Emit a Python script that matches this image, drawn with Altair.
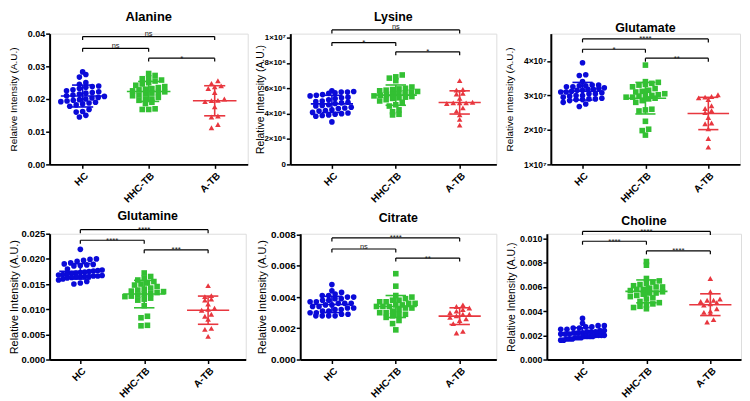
import altair as alt
import pandas as pd
import numpy as np

GROUPS = ["HC", "HHC-TB", "A-TB"]
COLORS = ["#0a0ad8", "#33c033", "#e8373f"]
SHAPES = ["circle", "square", "triangle-up"]
PAIRS = [(0, 2), (0, 1), (1, 2)]

# ---------------- data ----------------
alanine_hc = [0.0283, 0.0275, 0.0267, 0.0250, 0.0245, 0.0240, 0.0238, 0.0236, 0.0232, 0.0228, 0.0225, 0.0222,
              0.0220, 0.0218, 0.0215, 0.0212, 0.0210, 0.0208, 0.0205, 0.0203, 0.0200, 0.0198, 0.0196, 0.0194,
              0.0192, 0.0190, 0.0188, 0.0185, 0.0182, 0.0178, 0.0168, 0.0162, 0.0160, 0.0150, 0.0145]
alanine_hhc = [0.0278, 0.0272, 0.0265, 0.0262, 0.0258, 0.0255, 0.0250, 0.0246, 0.0242, 0.0238, 0.0235, 0.0232,
               0.0230, 0.0228, 0.0225, 0.0222, 0.0220, 0.0218, 0.0215, 0.0212, 0.0210, 0.0205, 0.0200, 0.0198,
               0.0196, 0.0190, 0.0186, 0.0170, 0.0168, 0.0168]
alanine_atb = [0.0256, 0.0248, 0.0240, 0.0237, 0.0232, 0.0220, 0.0200, 0.0196, 0.0195, 0.0192, 0.0176, 0.0148,
               0.0145, 0.0122, 0.0112]
alanine_sig_y = [0.0391, 0.0355, 0.0325]
alanine_sig = ["ns", "ns", "*"]

lysine_hc = [5.8e6, 5.75e6, 5.7e6, 5.7e6, 5.65e6, 5.6e6, 5.5e6, 5.45e6, 5.4e6, 5.3e6, 5.25e6, 5.2e6, 5.1e6,
             5.0e6, 4.95e6, 4.9e6, 4.85e6, 4.8e6, 4.7e6, 4.65e6, 4.6e6, 4.5e6, 4.45e6, 4.4e6, 4.3e6, 4.25e6,
             4.2e6, 4.1e6, 4.05e6, 4.0e6, 3.95e6, 3.9e6, 3.85e6, 3.8e6, 3.35e6]
lysine_hhc = [7.05e6, 6.9e6, 6.8e6, 6.6e6, 6.1e6, 6.0e6, 5.95e6, 5.9e6, 5.85e6, 5.8e6, 5.75e6, 5.7e6, 5.65e6,
              5.6e6, 5.55e6, 5.5e6, 5.45e6, 5.4e6, 5.35e6, 5.3e6, 5.25e6, 5.2e6, 5.1e6, 5.0e6, 4.9e6, 4.7e6,
              4.6e6, 4.3e6, 4.15e6, 3.95e6, 3.9e6]
lysine_atb = [6.6e6, 5.9e6, 5.85e6, 5.6e6, 5.55e6, 5.2e6, 4.9e6, 4.85e6, 4.85e6, 4.85e6, 4.8e6, 4.45e6, 4.2e6,
              3.9e6, 3.55e6, 3.1e6]
lysine_sig_y = [1.06e7, 0.96e7, 0.887e7]
lysine_sig = ["ns", "*", "*"]

glutamate_hc = [3.95e7, 3.6e7, 3.58e7, 3.4e7, 3.3e7, 3.3e7, 3.28e7, 3.28e7, 3.25e7, 3.25e7, 3.22e7, 3.2e7,
                3.18e7, 3.18e7, 3.15e7, 3.15e7, 3.12e7, 3.1e7, 3.1e7, 3.08e7, 3.05e7, 3.05e7, 3.0e7, 3.0e7,
                2.98e7, 2.95e7, 2.92e7, 2.9e7, 2.9e7, 2.88e7, 2.88e7, 2.85e7, 2.8e7, 2.75e7, 2.68e7]
glutamate_hhc = [3.88e7, 3.4e7, 3.38e7, 3.35e7, 3.32e7, 3.3e7, 3.25e7, 3.2e7, 3.15e7, 3.12e7, 3.1e7, 3.05e7,
                 3.02e7, 3.0e7, 3.0e7, 2.98e7, 2.95e7, 2.95e7, 2.92e7, 2.9e7, 2.85e7, 2.8e7, 2.6e7, 2.58e7,
                 2.55e7, 2.25e7, 2.02e7, 1.98e7, 1.85e7]
glutamate_atb = [3.02e7, 2.97e7, 2.95e7, 2.93e7, 2.88e7, 2.7e7, 2.62e7, 2.56e7, 2.5e7, 2.36e7, 2.2e7, 2.18e7,
                 2.03e7, 1.75e7, 1.5e7]
glutamate_sig_y = [4.64e7, 4.34e7, 4.08e7]
glutamate_sig = ["****", "*", "**"]

glutamine_hc = [0.0219, 0.0200, 0.0199, 0.0197, 0.0195, 0.0192, 0.0190, 0.0189, 0.0188, 0.0187, 0.0186, 0.0180,
                0.0178, 0.0177, 0.0176, 0.0175, 0.0174, 0.0173, 0.0172, 0.0171, 0.0170, 0.0169, 0.0168, 0.0167,
                0.0166, 0.0166, 0.0165, 0.0165, 0.0164, 0.0164, 0.0163, 0.0162, 0.0160, 0.0158, 0.0155, 0.0152,
                0.0150]
glutamine_hhc = [0.0172, 0.0165, 0.0162, 0.0158, 0.0155, 0.0152, 0.0150, 0.0148, 0.0145, 0.0142, 0.0140, 0.0138,
                 0.0136, 0.0135, 0.0133, 0.0131, 0.0130, 0.0128, 0.0126, 0.0125, 0.0122, 0.0120, 0.0118, 0.0107,
                 0.0086, 0.0083, 0.0068, 0.0067]
glutamine_atb = [0.0147, 0.0127, 0.0125, 0.0120, 0.0118, 0.0110, 0.0102, 0.0100, 0.0098, 0.0090, 0.0086, 0.0080,
                 0.0062, 0.0060, 0.0046]
glutamine_sig_y = [0.0258, 0.0237, 0.0218]
glutamine_sig = ["****", "****", "***"]

citrate_hc = [0.0048, 0.0044, 0.0043, 0.0042, 0.0041, 0.0041, 0.0040, 0.0040, 0.0039, 0.0039, 0.0038, 0.0038,
              0.0037, 0.0037, 0.0036, 0.0036, 0.0036, 0.0035, 0.0035, 0.0034, 0.0034, 0.0033, 0.0033, 0.0032,
              0.0032, 0.0031, 0.0031, 0.0030, 0.0030, 0.0029, 0.0029, 0.0028, 0.0028, 0.0028, 0.0028]
citrate_hhc = [0.0055, 0.0047, 0.0041, 0.0040, 0.0039, 0.0038, 0.0038, 0.0037, 0.0037, 0.0036, 0.0036, 0.0035,
               0.0035, 0.0034, 0.0034, 0.0034, 0.0033, 0.0033, 0.0032, 0.0031, 0.0030, 0.0030, 0.0029, 0.0029,
               0.0028, 0.0027, 0.0025, 0.0023, 0.0019]
citrate_atb = [0.0035, 0.0034, 0.0033, 0.0032, 0.0031, 0.0030, 0.0029, 0.0029, 0.0028, 0.0027, 0.0026, 0.0025,
               0.0023, 0.0018, 0.0017]
citrate_sig_y = [0.00779, 0.00708, 0.0065]
citrate_sig = ["****", "ns", "**"]

choline_hc = [0.0034, 0.0030, 0.0028, 0.0028, 0.0027, 0.0027, 0.0026, 0.0026, 0.0025, 0.0025, 0.0024, 0.0024,
              0.0023, 0.0023, 0.0023, 0.0022, 0.0022, 0.0022, 0.0021, 0.0021, 0.0021, 0.0020, 0.0020, 0.0020,
              0.0020, 0.0019, 0.0019, 0.0019, 0.0019, 0.0018, 0.0018, 0.0018, 0.0017, 0.0017, 0.0017, 0.0016,
              0.0016]
choline_hhc = [0.0081, 0.0078, 0.0067, 0.0065, 0.0064, 0.0063, 0.0062, 0.0061, 0.0060, 0.0060, 0.0059, 0.0058,
               0.0058, 0.0057, 0.0056, 0.0055, 0.0055, 0.0054, 0.0053, 0.0052, 0.0051, 0.0050, 0.0048, 0.0047,
               0.0046, 0.0045, 0.0044, 0.0043, 0.0042]
choline_atb = [0.0067, 0.0056, 0.0050, 0.0049, 0.0049, 0.0048, 0.0047, 0.0046, 0.0045, 0.0042, 0.0040, 0.0039,
               0.0038, 0.0033, 0.0031]
choline_sig_y = [0.01059, 0.00978, 0.00898]
choline_sig = ["****", "****", "****"]

alanine_ticks = [0, 0.01, 0.02, 0.03, 0.04]
lysine_ticks = [0, 2e6, 4e6, 6e6, 8e6, 1e7]
glutamate_ticks = [1e7, 2e7, 3e7, 4e7]
glutamine_ticks = [0, 0.005, 0.010, 0.015, 0.020, 0.025]
citrate_ticks = [0, 0.002, 0.004, 0.006, 0.008]
choline_ticks = [0, 0.002, 0.004, 0.006, 0.008, 0.010]

FONT = "Liberation Sans"
YTITLE = "Relative Intensity (A.U.)"

# ---------------- layout settings (not data) ----------------
PANELS = [
    dict(name="Alanine", vals=(alanine_hc, alanine_hhc, alanine_atb), sy=alanine_sig_y, sl=alanine_sig,
         W=200, H=132, xdom=(-0.5, 2.5), ydom=(0, 0.04), ticks=alanine_ticks, fmt=".2f",
         toff=17, tfs=13, ext=31, ytfs=10, lfs=9),
    dict(name="Lysine", vals=(lysine_hc, lysine_hhc, lysine_atb), sy=lysine_sig_y, sl=lysine_sig,
         W=208, H=132, xdom=(-0.651, 2.574), ydom=(0, 1.0308e7), ticks=lysine_ticks,
         expr="datum.value == 0 ? '0' : (datum.value >= 1e7 ? '1×10⁷' : format(datum.value/1e6, 'd') + '×10⁶')",
         toff=17, tfs=12.5, ext=25.5, ytfs=10.5, lfs=8),
    dict(name="Glutamate", vals=(glutamate_hc, glutamate_hhc, glutamate_atb), sy=glutamate_sig_y, sl=glutamate_sig,
         W=191, H=132, xdom=(-0.504, 2.504), ydom=(1e7, 4.793e7), ticks=glutamate_ticks,
         expr="format(datum.value/1e7, 'd') + '×10⁷'",
         toff=6, tfs=12.5, ext=37, ytfs=10, lfs=8.5),
    dict(name="Glutamine", vals=(glutamine_hc, glutamine_hhc, glutamine_atb), sy=glutamine_sig_y, sl=glutamine_sig,
         W=198, H=127, xdom=(-0.481, 2.589), ydom=(0, 0.025), ticks=glutamine_ticks, fmt=".3f",
         toff=18, tfs=12.5, ext=30.5, ytfs=11, lfs=9.5),
    dict(name="Citrate", vals=(citrate_hc, citrate_hhc, citrate_atb), sy=citrate_sig_y, sl=citrate_sig,
         W=198, H=127, xdom=(-0.496, 2.574), ydom=(0, 0.00806), ticks=citrate_ticks, fmt=".3f",
         toff=16, tfs=12.5, ext=33.5, ytfs=11, lfs=10),
    dict(name="Choline", vals=(choline_hc, choline_hhc, choline_atb), sy=choline_sig_y, sl=choline_sig,
         W=196, H=127, xdom=(-0.558, 2.48), ydom=(0, 0.0104), ticks=choline_ticks, fmt=".3f",
         toff=13, tfs=12.5, ext=30.5, ytfs=10.5, lfs=9),
]

MARK_D = 6.5     # marker footprint, px
ROW_PX = 5.5     # row height for the scatter arrangement, px
MAX_ROW = 44.0   # widest a row of points may spread, px


def swarm(vals, px_per_unit, px_per_cat):
    """Column-scatter arrangement: points of similar value are spread side by side."""
    ys = np.asarray(vals, dtype=float) * px_per_unit
    rows = np.round(ys / ROW_PX).astype(int)
    off = np.zeros(len(vals))
    for r in np.unique(rows):
        idx = np.where(rows == r)[0]
        idx = idx[np.argsort(ys[idx])]
        n = len(idx)
        step = MARK_D if n < 2 else min(MARK_D, MAX_ROW / (n - 1))
        for k, i in enumerate(idx):
            off[i] = (k - (n - 1) / 2) * step
    return off / px_per_cat


def make_panel(p):
    ppu = p["H"] / (p["ydom"][1] - p["ydom"][0])
    ppc = p["W"] / (p["xdom"][1] - p["xdom"][0])
    rows = []
    for gi, vals in enumerate(p["vals"]):
        off = swarm(vals, ppu, ppc)
        for v, o in zip(vals, off):
            rows.append(dict(grp=GROUPS[gi], gi=gi, v=v, xp=gi + o))
    pts = pd.DataFrame(rows)

    tick_u = 3.5 / ppu
    br = pd.DataFrame([dict(x1=a, x2=b, xm=(a + b) / 2, y=y, yt=y - tick_u, lab=l)
                       for (a, b), y, l in zip(PAIRS, p["sy"], p["sl"])])

    xs = alt.Scale(domain=list(p["xdom"]), nice=False, zero=False)
    ys = alt.Scale(domain=list(p["ydom"]), nice=False, zero=False)
    xaxis = alt.Axis(values=[0, 1, 2], labelExpr="['HC','HHC-TB','A-TB'][datum.value]", labelAngle=-45,
                     title=None, grid=False, domainColor="black", domainWidth=2, tickColor="black",
                     tickWidth=1.5, tickSize=4, labelFont=FONT, labelFontWeight="bold", labelFontSize=10,
                     labelColor="black", labelPadding=2)
    yk = dict(values=p["ticks"], title=YTITLE, titleFont=FONT, titleFontSize=p["ytfs"],
              titleFontWeight="normal", titleColor="black", titlePadding=0,
              minExtent=p["ext"], maxExtent=p["ext"], grid=False, domainColor="black", domainWidth=2,
              tickColor="black", tickWidth=1.5, tickSize=4, labelFont=FONT, labelFontWeight="bold",
              labelFontSize=p["lfs"], labelColor="black", labelPadding=1)
    if "expr" in p:
        yk["labelExpr"] = p["expr"]
    else:
        yk["format"] = p["fmt"]
    yaxis = alt.Axis(**yk)

    color = alt.Color("grp:N", scale=alt.Scale(domain=GROUPS, range=COLORS), legend=None)

    def X(f):
        return alt.X(f, scale=xs, axis=xaxis)

    def Y(f):
        return alt.Y(f, scale=ys, axis=yaxis)

    points = alt.Chart(pts).mark_point(filled=True, opacity=1, size=32).encode(
        x=X("xp:Q"), y=Y("v:Q"), color=color,
        shape=alt.Shape("grp:N", scale=alt.Scale(domain=GROUPS, range=SHAPES), legend=None))

    stats = alt.Chart(pts).transform_aggregate(
        m="mean(v)", sd="stdev(v)", groupby=["grp", "gi"]
    ).transform_calculate(
        lo="datum.m - datum.sd", hi="datum.m + datum.sd",
        ml="datum.gi - 0.33", mr="datum.gi + 0.33",
        cl="datum.gi - 0.16", cr="datum.gi + 0.16")
    mean_rule = stats.mark_rule(strokeWidth=1.6).encode(x=X("ml:Q"), x2="mr:Q", y=Y("m:Q"), color=color)
    sd_rule = stats.mark_rule(strokeWidth=1.6).encode(x=X("gi:Q"), y=Y("lo:Q"), y2="hi:Q", color=color)
    cap_hi = stats.mark_rule(strokeWidth=1.6).encode(x=X("cl:Q"), x2="cr:Q", y=Y("hi:Q"), color=color)
    cap_lo = stats.mark_rule(strokeWidth=1.6).encode(x=X("cl:Q"), x2="cr:Q", y=Y("lo:Q"), color=color)

    bb = alt.Chart(br)
    b_h = bb.mark_rule(strokeWidth=1.2, color="black").encode(x=X("x1:Q"), x2="x2:Q", y=Y("y:Q"))
    b_l = bb.mark_rule(strokeWidth=1.2, color="black").encode(x=X("x1:Q"), y=Y("y:Q"), y2="yt:Q")
    b_r = bb.mark_rule(strokeWidth=1.2, color="black").encode(x=X("x2:Q"), y=Y("y:Q"), y2="yt:Q")
    t_ns = bb.transform_filter("datum.lab == 'ns'").mark_text(
        font=FONT, fontSize=7.5, color="#222", baseline="alphabetic", dy=-0.5).encode(
        x=X("xm:Q"), y=Y("y:Q"), text="lab:N")
    t_st = bb.transform_filter("datum.lab != 'ns'").mark_text(
        font=FONT, fontSize=8, color="#222", baseline="alphabetic", dy=2.5).encode(
        x=X("xm:Q"), y=Y("y:Q"), text="lab:N")

    title = alt.Chart(pd.DataFrame({"t": [p["name"]]})).mark_text(
        font=FONT, fontSize=p["tfs"], fontWeight="bold", color="black", align="center",
        baseline="middle").encode(x=alt.value(p["W"] / 2), y=alt.value(-p["toff"]), text="t:N")

    return alt.layer(points, mean_rule, sd_rule, cap_hi, cap_lo, b_h, b_l, b_r, t_ns, t_st, title).properties(
        width=p["W"], height=p["H"])


panels = [make_panel(p) for p in PANELS]
row1 = alt.hconcat(*panels[:3], spacing=6)
row2 = alt.hconcat(*panels[3:], spacing=9)
chart = alt.vconcat(row1, row2, spacing=4).properties(padding=0).configure_view(stroke=None).configure(
    font=FONT)

chart.save("out.html", embed_options={"renderer": "svg", "actions": False})
